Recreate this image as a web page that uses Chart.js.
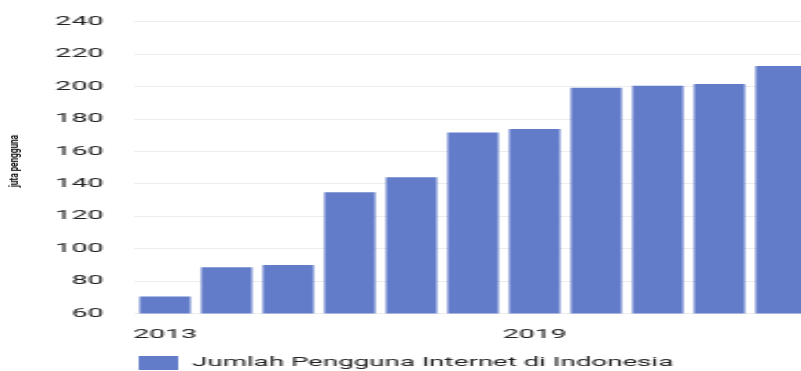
<!DOCTYPE html>
<html>
<head>
<meta charset="utf-8">
<script src="https://cdn.jsdelivr.net/npm/chart.js@4.4.0/dist/chart.umd.min.js"></script>
<style>
  html, body { margin: 0; padding: 0; background: #fff; overflow: hidden; }
  #wrap { position: relative; width: 801px; height: 371px; overflow: hidden; }
  #c { position: absolute; left: 0; top: 0; transform-origin: 0 0; transform: scaleX(2.2); }
  #ytitle { position: absolute; left: 14px; top: 161px; transform: translate(-50%, -50%) rotate(-90deg) scaleX(0.68);
            font-family: Roboto, sans-serif; font-weight: bold; font-size: 12px; color: #111; white-space: nowrap; }
</style>
</head>
<body>
<div id="wrap">
  <canvas id="c" width="369" height="380" style="width:369px;height:380px"></canvas>
  <div id="ytitle">juta pengguna</div>
</div>
<script>
const categories = ['2013','2014','2015','2016','2017','2018','2019','2020','2021','2022','2023'];
const users = [70.5, 88.5, 89.8, 134.8, 144, 171.6, 173.9, 199.3, 200.6, 201.6, 212.7];
const seriesName = 'Jumlah Pengguna Internet di Indonesia';
const yTicks = { min: 60, max: 240, step: 20 };

new Chart(document.getElementById('c'), {
  type: 'bar',
  data: {
    labels: categories,
    datasets: [{
      label: seriesName,
      data: users,
      backgroundColor: '#627cca',
      borderWidth: 0,
      barPercentage: 0.9,
      categoryPercentage: 0.92
    }]
  },
  options: {
    responsive: false,
    animation: false,
    layout: { padding: { top: 12, left: 0, right: 0, bottom: 0 } },
    plugins: {
      legend: {
        position: 'bottom',
        labels: {
          font: { family: 'Roboto', size: 12.6 },
          color: '#222',
          boxWidth: 18,
          boxHeight: 14,
          padding: 7
        }
      },
      tooltip: { enabled: false }
    },
    scales: {
      x: {
        grid: { display: false },
        border: { display: false },
        ticks: {
          autoSkip: false,
          maxRotation: 0,
          padding: 6,
          color: '#222',
          font: { family: 'Roboto', size: 13 },
          callback: function(v, i) { return i % 6 === 0 ? categories[i] : ''; }
        }
      },
      y: {
        min: yTicks.min,
        max: yTicks.max,
        grid: { color: '#ececec', drawTicks: false },
        border: { display: false },
        ticks: {
          stepSize: yTicks.step,
          padding: 14,
          color: '#222',
          font: { family: 'Roboto', size: 13 }
        },
        afterFit: function(scale) { scale.width = 61; }
      }
    }
  }
});
</script>
</body>
</html>
